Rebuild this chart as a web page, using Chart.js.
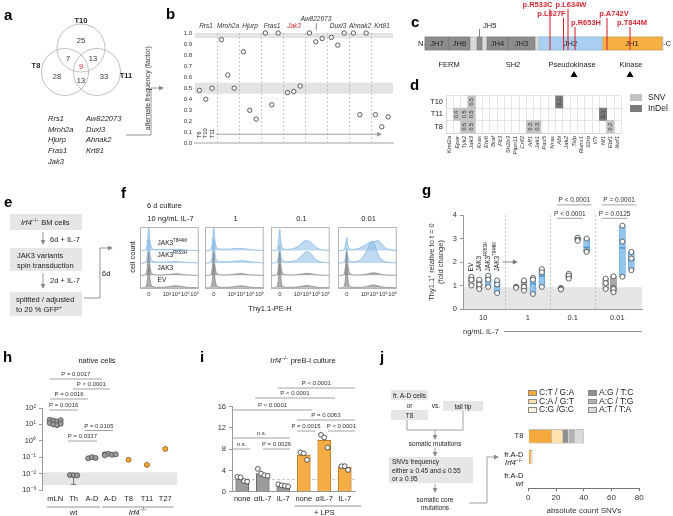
<!DOCTYPE html>
<html>
<head>
<meta charset="utf-8">
<title>Irf4 / JAK3 figure</title>
<script src="https://cdn.jsdelivr.net/npm/chart.js@4.4.1/dist/chart.umd.min.js"></script>
<style>
  html, body { margin: 0; padding: 0; background: #fff; }
  #fig { position: relative; width: 673px; height: 516px; overflow: hidden;
         font-family: "Liberation Sans", Arial, sans-serif; color: #222; }
  #art { position: absolute; left: 0; top: 0; will-change: transform; }
  .cv { position: absolute; }
  #legendD, #legendJ { position: absolute; left: 0; top: 0; width: 673px; height: 516px; will-change: transform; }
  .leg { position: absolute; white-space: nowrap; color: #222; }
  .leg span { display: inline-block; box-sizing: border-box; border: 0.6px solid #888; vertical-align: middle; margin-right: 2px; }
</style>
</head>
<body>
<div id="fig">
<svg id="art" width="673" height="516" font-family="Liberation Sans, Arial, sans-serif" fill="#222">
  <defs>
    <marker id="ah" viewBox="0 0 6 6" refX="5" refY="3" markerWidth="5" markerHeight="5" markerUnits="userSpaceOnUse" orient="auto">
      <path d="M0,0 L6,3 L0,6 z" fill="#888"/>
    </marker>
  </defs>
  <!-- panel letters -->
  <g font-weight="bold" font-size="15" fill="#000">
    <text x="4" y="20">a</text><text x="166" y="19">b</text><text x="411" y="27">c</text>
    <text x="410" y="90">d</text><text x="4" y="207">e</text><text x="121" y="198">f</text>
    <text x="422" y="195">g</text><text x="3" y="362">h</text><text x="200" y="362">i</text>
    <text x="380" y="362">j</text>
  </g>

  <!-- a: Venn -->
  <g fill="none" stroke="#b0b0b0" stroke-width="0.8">
    <circle cx="81" cy="48" r="24"/><circle cx="65" cy="72" r="23.5"/><circle cx="97" cy="72" r="23.5"/>
  </g>
  <g font-size="7.5" font-weight="bold" text-anchor="middle">
    <text x="81" y="23">T10</text><text x="36" y="68">T8</text><text x="126" y="78">T11</text>
  </g>
  <g font-size="7.5" text-anchor="middle" fill="#333">
    <text x="81" y="43">25</text><text x="68" y="61">7</text><text x="93" y="61">13</text>
    <text x="81" y="69" fill="#d42a35">9</text><text x="57" y="79">28</text><text x="81" y="83">13</text>
    <text x="104" y="79">33</text>
  </g>
  <g font-size="7.5" font-style="italic">
    <text x="48" y="121">Rrs1</text><text x="48" y="131.5">Mroh2a</text><text x="48" y="142">Hjurp</text>
    <text x="48" y="153">Fras1</text><text x="48" y="164">Jak3</text>
    <text x="86" y="121">Aw822073</text><text x="86" y="131.5">Duxl3</text><text x="86" y="142">Ahnak2</text>
    <text x="86" y="153">Krt81</text>
  </g>
  <polyline points="126,135 151,135 151,88 163,88" fill="none" stroke="#888" stroke-width="0.9" marker-end="url(#ah)"/>

  <!-- c: JAK3 protein -->
  <text x="418" y="46" font-size="7.5">N-</text>
  <text x="663" y="46" font-size="7.5">-C</text>
  <rect x="425" y="37" width="238" height="13" fill="#dadada" stroke="#aaa" stroke-width="0.5"/>
  <g fill="#8d8d8d" stroke="#6e6e6e" stroke-width="0.5">
    <rect x="425" y="37" width="24" height="13"/><rect x="449" y="37" width="21" height="13"/>
    <rect x="477" y="37" width="5" height="13"/><rect x="487" y="37" width="21" height="13"/>
    <rect x="508" y="37" width="27" height="13"/>
  </g>
  <rect x="539" y="37" width="63" height="13" fill="#a9d0f0" stroke="#84acd0" stroke-width="0.5"/>
  <rect x="603" y="37" width="59" height="13" fill="#f7b143" stroke="#d08f2c" stroke-width="0.5"/>
  <g font-size="7.5" text-anchor="middle" fill="#222">
    <text x="437" y="46">JH7</text><text x="459.5" y="46">JH6</text><text x="497.5" y="46">JH4</text>
    <text x="521.5" y="46">JH3</text><text x="570.5" y="46">JH2</text><text x="632" y="46">JH1</text>
    <text x="449" y="67">FERM</text><text x="513" y="67">SH2</text>
    <text x="572" y="67">Pseudokinase</text><text x="631" y="67">Kinase</text>
  </g>
  <text x="483" y="28" font-size="7.5">JH5</text>
  <line x1="479.5" y1="29" x2="479.5" y2="37" stroke="#666" stroke-width="0.8"/>
  <polygon points="570.5,77 577.5,77 574,71" fill="#000"/>
  <polygon points="626.5,77 633.5,77 630,71" fill="#000"/>
  <g stroke="#d42a35" stroke-width="1.1">
    <line x1="550" y1="9" x2="550" y2="50"/><line x1="563.5" y1="18" x2="563.5" y2="50"/>
    <line x1="568" y1="9" x2="568" y2="50"/><line x1="575" y1="27" x2="575" y2="50"/>
    <line x1="607" y1="18" x2="607" y2="50"/><line x1="630" y1="27" x2="630" y2="50"/>
  </g>
  <g font-size="7.5" font-weight="bold" fill="#d42a35" text-anchor="middle">
    <text x="537.5" y="7">p.R533C</text><text x="551.5" y="16">p.L627F</text>
    <text x="571" y="7">p.L634W</text><text x="586" y="25">p.R653H</text>
    <text x="614" y="16">p.A742V</text><text x="632" y="25">p.T844M</text>
  </g>

  <!-- e: workflow -->
  <g fill="#e6e6e6">
    <rect x="10" y="214" width="72" height="16"/><rect x="10" y="248" width="72" height="23"/>
    <rect x="10" y="292" width="72" height="24"/>
  </g>
  <g font-size="7.5">
    <text x="21" y="225"><tspan font-style="italic">Irf4</tspan><tspan font-size="5" dy="-3">−/−</tspan><tspan dy="3"> BM cells</tspan></text>
    <text x="50" y="242">6d + IL-7</text>
    <text x="17" y="258">JAK3 variants</text><text x="17" y="268">spin transduction</text>
    <text x="50" y="283">2d + IL-7</text>
    <text x="16" y="302">splitted / adjusted</text>
    <text x="16" y="312">to 20 % GFP<tspan font-size="5" dy="-3">+</tspan></text>
    <text x="102" y="276">6d</text>
  </g>
  <g stroke="#888" stroke-width="0.9" fill="none">
    <line x1="43" y1="232" x2="43" y2="244" marker-end="url(#ah)"/>
    <line x1="43" y1="273" x2="43" y2="288" marker-end="url(#ah)"/>
    <polyline points="84,298 100,298 100,248 112,248" marker-end="url(#ah)"/>
  </g>

  <!-- f: annotations around the histograms -->
  <text x="147" y="208" font-size="7.5">6 d culture</text>
  <text transform="translate(134.5,257) rotate(-90)" font-size="7.5" text-anchor="middle">cell count</text>
  <text x="270" y="311" font-size="7.5" text-anchor="middle">Thy1.1-PE-H</text>

  <!-- j: workflow -->
  <g fill="#e6e6e6">
    <rect x="391" y="390" width="37" height="10"/><rect x="391" y="410" width="37" height="10"/>
    <rect x="443" y="401" width="40" height="10"/><rect x="389" y="457" width="84" height="26"/>
  </g>
  <g font-size="6.5" text-anchor="middle">
    <text x="409.5" y="397.5">fr. A-D cells</text><text x="409.5" y="407.5">or</text>
    <text x="409.5" y="417.5">T8</text><text x="436" y="407.5">vs.</text>
    <text x="463" y="408.5">tail tip</text><text x="435" y="445.5">somatic mutations</text>
    <text x="435" y="501.5">somatic core</text><text x="435" y="510">mutations</text>
  </g>
  <g font-size="6.5">
    <text x="392" y="464">SNVs frequency</text>
    <text x="392" y="472.5">either ≥ 0.45 and ≤ 0.55</text>
    <text x="392" y="481">or ≥ 0.95</text>
  </g>
  <g stroke="#888" stroke-width="0.8" fill="none">
    <polyline points="407,420 407,430 463,430 463,411"/>
    <line x1="435" y1="430" x2="435" y2="439" marker-end="url(#ah)"/>
    <line x1="435" y1="448" x2="435" y2="456" marker-end="url(#ah)"/>
    <line x1="435" y1="484" x2="435" y2="492" marker-end="url(#ah)"/>
    <polyline points="469,503 487,503 487,457 498,457" marker-end="url(#ah)"/>
  </g>
</svg>

<div class="cv" style="left:140px;top:10px;width:258px;height:140px"><canvas id="chartB"></canvas></div>
<div class="cv" style="left:428px;top:88px;width:200px;height:86px"><canvas id="chartD"></canvas></div>
<div class="cv" style="left:140px;top:214px;width:61px;height:90px"><canvas id="chartF0"></canvas></div>
<div class="cv" style="left:205px;top:214px;width:61px;height:90px"><canvas id="chartF1"></canvas></div>
<div class="cv" style="left:271px;top:214px;width:61px;height:90px"><canvas id="chartF2"></canvas></div>
<div class="cv" style="left:338px;top:214px;width:61px;height:90px"><canvas id="chartF3"></canvas></div>
<div class="cv" style="left:425px;top:190px;width:225px;height:150px"><canvas id="chartG"></canvas></div>
<div class="cv" style="left:0px;top:352px;width:182px;height:164px"><canvas id="chartH"></canvas></div>
<div class="cv" style="left:198px;top:352px;width:170px;height:164px"><canvas id="chartI"></canvas></div>
<div class="cv" style="left:490px;top:420px;width:183px;height:96px"><canvas id="chartJ"></canvas></div>
<div id="legendD"></div>
<div id="legendJ"></div>
</div>

<script>
// ===== DATA =====
// b: alternate allele frequency of the 9 shared variants
const B_GENES  = ['Rrs1', 'Mroh2a', 'Hjurp', 'Fras1', 'Jak3', 'Aw822073', 'Duxl3', 'Ahnak2', 'Krt81'];
const B_TUMORS = ['T8', 'T10', 'T11'];
const B_T8  = [0.48, 0.94, 0.83, 1.00, 0.46, 1.00, 0.96, 1.00, 0.26];
const B_T10 = [0.40, 0.62, 0.30, 0.35, 0.47, 0.92, 0.89, 0.26, 0.15];
const B_T11 = [0.50, 0.50, 0.22, 1.00, 0.52, 0.95, 1.00, 1.00, 0.24];
const B_BANDS = [[0.955, 1.0], [0.45, 0.55]];

// d: leukemia driver genes
const D_GENES = ['Kmt2a', 'Epor', 'Tyk2', 'Jak3', 'Kras', 'Etv6', 'Braf', 'Flt3', 'Sh2b3', 'Ptpn11', 'Crlf2', 'Aff1',
                 'Jak1', 'Pax5', 'Nras', 'Abl', 'Jak2', 'Tslp', 'Runx1', 'Il2rb', 'Il7r', 'Nf1', 'Ebf1', 'Ikzf1'];
const D_TUMORS = ['T10', 'T11', 'T8'];
const D_KINDS  = ['SNV', 'InDel'];
const D_SNV = [['T10', 'Jak3', '0.5'], ['T11', 'Epor', '0.4'], ['T11', 'Tyk2', '0.5'], ['T11', 'Jak3', '0.5'],
               ['T8', 'Tyk2', '0.5'], ['T8', 'Jak3', '0.5'], ['T8', 'Aff1', '0.3'], ['T8', 'Jak1', '0.3'],
               ['T8', 'Ebf1', '0.2']];
const D_INDEL = [['T10', 'Abl', '0.1'], ['T11', 'Nf1', '0.1']];

// f: Thy1.1 histograms (x in decades, heights normalised to the peak)
const F_CONC = ['10 ng/mL IL-7', '1', '0.1', '0.01'];
const F_VARIANTS = ['EV', 'JAK3', 'JAK3 R653H', 'JAK3 T844M'];
const F_X = [0.1, 0.55, 0.8, 0.95, 1.05, 1.15, 1.3, 1.5, 1.9, 2.4, 2.9, 3.3, 3.6, 3.9, 4.2, 4.5, 4.8, 5.2, 5.7, 6.45];
const F_TICKS = [1.05, 3, 4, 5, 6];
const F_TICK_LABELS = ['0', '10³', '10⁴', '10⁵', '10⁶'];
const F_EV = [
  [0, 0, 0.08, 0.55, 1.0, 0.5, 0.12, 0.04, 0.02, 0.02, 0.03, 0.05, 0.07, 0.09, 0.08, 0.06, 0.04, 0.02, 0.01, 0],
  [0, 0, 0.08, 0.6, 1.0, 0.5, 0.12, 0.04, 0.02, 0.02, 0.03, 0.05, 0.07, 0.08, 0.08, 0.06, 0.04, 0.02, 0.01, 0],
  [0, 0, 0.1, 0.6, 1.0, 0.5, 0.1, 0.03, 0.02, 0.02, 0.03, 0.05, 0.08, 0.1, 0.09, 0.06, 0.04, 0.02, 0.01, 0],
  [0, 0, 0.1, 0.6, 1.0, 0.45, 0.1, 0.03, 0.02, 0.02, 0.03, 0.06, 0.1, 0.12, 0.1, 0.07, 0.04, 0.02, 0.01, 0]
];
const F_JAK3 = [
  [0, 0, 0.1, 0.6, 1.0, 0.5, 0.12, 0.04, 0.02, 0.02, 0.03, 0.04, 0.06, 0.07, 0.07, 0.05, 0.03, 0.02, 0.01, 0],
  [0, 0, 0.1, 0.6, 1.0, 0.5, 0.12, 0.04, 0.02, 0.02, 0.03, 0.05, 0.06, 0.08, 0.07, 0.05, 0.03, 0.02, 0.01, 0],
  [0, 0, 0.1, 0.65, 1.0, 0.5, 0.12, 0.04, 0.02, 0.02, 0.03, 0.05, 0.07, 0.08, 0.08, 0.06, 0.04, 0.02, 0.01, 0],
  [0, 0, 0.1, 0.6, 1.0, 0.5, 0.12, 0.04, 0.02, 0.02, 0.03, 0.06, 0.09, 0.11, 0.1, 0.07, 0.04, 0.02, 0.01, 0]
];
const F_R653H = [
  [0, 0, 0.1, 0.6, 1.0, 0.5, 0.15, 0.06, 0.04, 0.04, 0.04, 0.05, 0.05, 0.06, 0.05, 0.04, 0.03, 0.02, 0.01, 0],
  [0, 0, 0.1, 0.6, 1.0, 0.5, 0.15, 0.07, 0.05, 0.05, 0.06, 0.07, 0.08, 0.09, 0.09, 0.08, 0.06, 0.04, 0.02, 0],
  [0, 0, 0.08, 0.45, 0.75, 0.35, 0.12, 0.06, 0.05, 0.06, 0.12, 0.25, 0.38, 0.47, 0.45, 0.35, 0.2, 0.08, 0.03, 0],
  [0, 0, 0.06, 0.35, 0.6, 0.3, 0.1, 0.05, 0.05, 0.1, 0.3, 0.6, 0.85, 0.9, 0.6, 0.3, 0.15, 0.06, 0.02, 0]
];
const F_T844M = [
  [0, 0, 0.1, 0.6, 1.0, 0.5, 0.15, 0.06, 0.04, 0.04, 0.04, 0.05, 0.05, 0.05, 0.05, 0.04, 0.03, 0.02, 0.01, 0],
  [0, 0, 0.1, 0.6, 1.0, 0.5, 0.15, 0.07, 0.06, 0.06, 0.07, 0.08, 0.09, 0.09, 0.08, 0.07, 0.05, 0.03, 0.02, 0],
  [0, 0, 0.08, 0.55, 0.9, 0.4, 0.12, 0.06, 0.05, 0.07, 0.15, 0.28, 0.38, 0.42, 0.4, 0.32, 0.2, 0.08, 0.03, 0],
  [0, 0, 0.06, 0.35, 0.55, 0.25, 0.08, 0.05, 0.05, 0.1, 0.2, 0.3, 0.36, 0.38, 0.4, 0.42, 0.3, 0.12, 0.04, 0]
];

// g: Thy1.1+ fold change, per IL-7 concentration (3 replicates)
const G_CONC = ['10', '1', '0.1', '0.01'];
const G_EV    = [[1.37, 1.25, 1.00], [0.95, 0.93, 0.90], [0.90, 0.86, 0.83], [1.29, 1.10, 0.85]];
const G_JAK3  = [[1.25, 1.04, 0.85], [1.22, 0.94, 0.78], [1.50, 1.42, 1.29], [1.39, 0.85, 0.71]];
const G_R653H = [[1.42, 1.25, 0.94], [1.32, 1.25, 0.64], [3.04, 2.95, 2.90], [3.55, 2.87, 1.37]];
const G_T844M = [[1.22, 1.04, 0.68], [1.70, 1.56, 0.94], [3.00, 2.45, 2.43], [2.43, 2.15, 1.65]];
const G_BAND_TOP = 0.93;
const G_PVALS = [['P < 0.0001', 2, 3, 4.43], ['P < 0.0001', 2, 2, 3.86],
                 ['P = 0.0001', 3, 3, 4.43], ['P = 0.0125', 3, 2, 3.86]];

// h: Aicda expression in native cells
const H_GROUPS = ['mLN', 'Th', 'A-D', 'A-D', 'T8', 'T11', 'T27'];
const H_VALUES = [
  [19, 17, 15, 18, 12, 10, 9, 11],
  [0.0082, 0.008, 0.0078],
  [0.085, 0.1, 0.09],
  [0.15, 0.16, 0.14, 0.15, 0.13],
  [0.07],
  [0.034],
  [0.32]
];
const H_ERR_LOW = [null, 0.0022, null, null, null, null, null];
const H_BAND = [0.002, 0.012];
const H_PVALS = [['P = 0.0017', -0.3, 2.55, -29], ['P < 0.0001', 0.97, 2.97, -19],
                 ['P = 0.0016', -0.27, 1.78, -9], ['P = 0.0016', -0.32, 1.24, 2],
                 ['P = 0.0105', 1.62, 3.14, 22.5], ['P = 0.0337', 0.7, 2.27, 33]];

// i: Aicda in Irf4-/- preB-I culture
const I_LABELS = ['none', 'αIL-7', 'IL-7', 'none', 'αIL-7', 'IL-7'];
const I_BARS = [2.3, 3.4, 1.2, 6.9, 9.7, 4.6];
const I_POINTS = [[2.8, 2.7, 2.0, 1.9], [4.3, 3.4, 3.1, 3.0], [1.4, 1.2, 1.1, 1.0],
                  [7.4, 7.2, 6.0], [10.7, 10.2, 8.3], [4.8, 4.8, 4.1]];
const I_BASELINE = 2.3;
const I_PVALS = [['P < 0.0001', 1.74, 5.49, -18.7], ['P < 0.0001', 0.62, 4.52, -8.7],
                 ['P < 0.0001', -0.45, 3.4, 3.3], ['P = 0.0063', 2.67, 5.49, 13.3],
                 ['P = 0.0015', 2.67, 3.55, 24.3], ['P < 0.0001', 4.18, 5.49, 24.3],
                 ['n.s.', -0.45, 2.33, 31.3], ['n.s.', -0.45, 0.38, 42.3], ['P = 0.0026', 1.01, 2.33, 42.3]];

// j: somatic SNV spectrum
const J_CATS = ['T8', 'fr.A-D Irf4-/-', 'fr.A-D wt'];
const J_TYPES = ['C:T / G:A', 'C:A / G:T', 'C:G /G:C', 'A:G / T:C', 'A:C / T:G', 'A:T / T:A'];
const J_COUNTS = [[17, 2, 0], [8, 1, 0], [0, 0, 0], [4, 0, 0], [5, 0, 0], [6, 0, 0]];

// ===== STYLE / HELPERS =====
const FONT = '"Liberation Sans", Arial, sans-serif';
Chart.defaults.font.family = FONT;
Chart.defaults.font.size = 8;
Chart.defaults.color = '#222';
Chart.defaults.animation = false;
Chart.defaults.responsive = true;
Chart.defaults.maintainAspectRatio = false;
Chart.defaults.plugins.legend.display = false;
Chart.defaults.plugins.tooltip.enabled = false;

const J_COLORS = ['#f5a83c', '#fde2ae', '#fff3e0', '#8e8e8e', '#b3b3b3', '#d9d9d9'];
const D_COLORS = ['#c2c2c2', '#7b7b7b'];
const NO_GRID = { display: false, drawTicks: false };

function fontStr(style, size) {
    const sup = style.includes('^');
    return (style.includes('i') ? 'italic ' : '') + (style.includes('b') ? 'bold ' : '') +
           (sup ? size * 0.68 : size) + 'px ' + FONT;
}

// parts: [[text, style]] ; style: 'i' italic, '^' superscript
function richText(ctx, parts, x, y, size, align) {
    let w = 0;
    parts.forEach(([t, s = '']) => { ctx.font = fontStr(s, size); w += ctx.measureText(t).width; });
    let cx = align === 'center' ? x - w / 2 : align === 'right' ? x - w : x;
    ctx.textAlign = 'left';
    ctx.textBaseline = 'middle';
    parts.forEach(([t, s = '']) => {
        ctx.font = fontStr(s, size);
        ctx.fillText(t, cx, s.includes('^') ? y - size * 0.35 : y);
        cx += ctx.measureText(t).width;
    });
}

function arrowH(ctx, x1, x2, y, color) {
    ctx.strokeStyle = color; ctx.fillStyle = color; ctx.lineWidth = 0.9;
    ctx.beginPath(); ctx.moveTo(x1, y); ctx.lineTo(x2 - 4, y); ctx.stroke();
    ctx.beginPath(); ctx.moveTo(x2, y); ctx.lineTo(x2 - 5, y - 2.5); ctx.lineTo(x2 - 5, y + 2.5); ctx.closePath(); ctx.fill();
}

function bracket(ctx, x1, x2, y, text, size) {
    ctx.strokeStyle = '#8a8a8a'; ctx.lineWidth = 0.8;
    ctx.beginPath(); ctx.moveTo(x1, y); ctx.lineTo(x2, y); ctx.stroke();
    ctx.fillStyle = '#333'; ctx.font = size + 'px ' + FONT;
    ctx.textAlign = 'center'; ctx.textBaseline = 'bottom';
    ctx.fillText(text, (x1 + x2) / 2, y - 1.2);
}

const SUP = { '-': '⁻', '0': '⁰', '1': '¹', '2': '²', '3': '³' };
const pow10 = (e) => '10' + String(e).split('').map(c => SUP[c]).join('');
const jitter = (k, n, step) => { const cols = Math.min(n, 4); return ((k % cols) - (cols - 1) / 2) * step; };
const mean = (a) => a.reduce((s, v) => s + v, 0) / a.length;

// ===== b =====
const B_OFFSETS = [0.2, 0.49, 0.78];
const bDecor = {
    id: 'bDecor',
    beforeDraw(chart) {
        const { ctx, chartArea: a, scales: { y } } = chart;
        ctx.save();
        ctx.fillStyle = '#e3e3e3';
        B_BANDS.forEach(([lo, hi]) => {
            const t = y.getPixelForValue(hi), b = y.getPixelForValue(lo);
            ctx.fillRect(a.left, t, a.right - a.left, b - t);
        });
        ctx.restore();
    },
    afterDatasetsDraw(chart) {
        const { ctx, scales: { x, y } } = chart;
        ctx.save();
        arrowH(ctx, x.getPixelForValue(0.95), x.getPixelForValue(8.5), y.getPixelForValue(0.083), '#999');
        ctx.fillStyle = '#222';
        B_TUMORS.forEach((t, k) => {
            ctx.save();
            ctx.translate(x.getPixelForValue(B_OFFSETS[k]), y.getPixelForValue(0.045));
            ctx.rotate(-Math.PI / 2);
            ctx.font = '6px ' + FONT; ctx.textAlign = 'left'; ctx.textBaseline = 'middle';
            ctx.fillText(t, 0, 0);
            ctx.restore();
        });
        ctx.restore();
    }
};

new Chart(document.getElementById('chartB'), {
    type: 'scatter',
    data: {
        datasets: [B_T8, B_T10, B_T11].map((vals, k) => ({
            label: B_TUMORS[k],
            data: vals.map((v, i) => ({ x: i + B_OFFSETS[k], y: v })),
            pointRadius: 2.2,
            pointBackgroundColor: '#fff',
            pointBorderColor: '#333',
            pointBorderWidth: 0.8,
            clip: false
        }))
    },
    options: {
        layout: { padding: { right: 5 } },
        scales: {
            x: {
                type: 'linear', min: 0, max: B_GENES.length,
                afterBuildTicks: (s) => { s.ticks = B_GENES.slice(1).map((g, i) => ({ value: i + 1 })); },
                ticks: { display: false },
                grid: { color: '#b0b0b0', lineWidth: 0.7, drawTicks: false },
                border: { color: '#d0d0d0', width: 2, dash: [2, 2] },
                afterFit: (s) => { s.height = 5; }
            },
            xTop: {
                type: 'linear', position: 'top', min: 0, max: B_GENES.length,
                afterBuildTicks: (s) => { s.ticks = B_GENES.map((g, i) => ({ value: i + 0.5 })); },
                ticks: {
                    autoSkip: false, maxRotation: 0, padding: 3,
                    font: { size: 6.5, style: 'italic', lineHeight: 1.1 },
                    color: (c) => B_GENES[c.index] === 'Jak3' ? '#d42a35' : '#333',
                    callback: (v, i) => B_GENES[i] === 'Aw822073' ? [B_GENES[i], '|'] : B_GENES[i]
                },
                grid: NO_GRID,
                border: { display: false },
                afterFit: (s) => { s.height = 23; }
            },
            y: {
                min: 0, max: 1,
                ticks: { stepSize: 0.1, font: { size: 6 }, padding: 3, color: '#333', callback: (v) => v.toFixed(1) },
                grid: NO_GRID,
                border: { display: false },
                title: { display: true, text: 'alternate frequency (factor)', font: { size: 7 }, color: '#333', padding: { top: 4, bottom: 0 } },
                afterFit: (s) => { s.width = 55; }
            }
        }
    },
    plugins: [bDecor]
});

// ===== d =====
const dCell = ([t, g, v]) => ({ y: t, x: [D_GENES.indexOf(g), D_GENES.indexOf(g) + 1], v });
const dCellText = {
    id: 'dCellText',
    afterDatasetsDraw(chart) {
        const { ctx } = chart;
        chart.data.datasets.forEach((ds, di) => {
            chart.getDatasetMeta(di).data.forEach((el, i) => {
                ctx.save();
                ctx.translate((el.x + el.base) / 2, el.y);
                ctx.rotate(-Math.PI / 2);
                ctx.font = '5.5px ' + FONT; ctx.fillStyle = '#333';
                ctx.textAlign = 'center'; ctx.textBaseline = 'middle';
                ctx.fillText(ds.data[i].v, 0, 0);
                ctx.restore();
            });
        });
    }
};

new Chart(document.getElementById('chartD'), {
    type: 'bar',
    data: {
        labels: D_TUMORS,
        datasets: [D_SNV, D_INDEL].map((cells, k) => ({
            label: D_KINDS[k],
            data: cells.map(dCell),
            backgroundColor: D_COLORS[k],
            borderWidth: 0,
            barPercentage: 1, categoryPercentage: 1, grouped: false
        }))
    },
    options: {
        indexAxis: 'y',
        layout: { padding: { top: 5, right: 2 } },
        scales: {
            x: {
                type: 'linear', min: 0, max: D_GENES.length, offset: false,
                afterBuildTicks: (s) => { s.ticks = D_GENES.concat(['']).map((g, i) => ({ value: i })); },
                ticks: { display: false },
                grid: { color: '#d4d4d4', lineWidth: 0.6, drawTicks: false },
                border: { color: '#d4d4d4' },
                afterFit: (s) => { s.height = 0; }
            },
            xg: {
                type: 'category', labels: D_GENES, position: 'bottom', offset: true,
                ticks: { autoSkip: false, minRotation: 90, maxRotation: 90, padding: 3, font: { size: 6, style: 'italic' }, color: '#333' },
                grid: NO_GRID,
                border: { display: false },
                afterFit: (s) => { s.height = 41; }
            },
            y: {
                type: 'category', offset: true,
                grid: { offset: true, color: '#d4d4d4', lineWidth: 0.6, drawTicks: false },
                border: { color: '#d4d4d4' },
                ticks: { padding: 3, font: { size: 7.5 }, color: '#222' },
                afterFit: (s) => { s.width = 18; }
            }
        }
    },
    plugins: [dCellText]
});

// legend d
(function () {
    const host = document.getElementById('legendD');
    D_KINDS.forEach((k, i) => {
        const el = document.createElement('div');
        el.className = 'leg';
        el.style.cssText = `left:630px;top:${93 + i * 11}px;font-size:8.5px;line-height:9px;`;
        el.innerHTML = `<span style="width:12px;height:7px;background:${D_COLORS[i]};border-color:${D_COLORS[i]};margin-right:6px"></span>${k}`;
        host.appendChild(el);
    });
})();

// ===== f =====
const F_OFFSETS = [0.1, 1.1, 2.1, 3.1];
const F_HEIGHT = 1.9;
const F_NAMES = [[['EV']], [['JAK3']], [['JAK3'], ['R653H', '^']], [['JAK3'], ['T844M', '^']]];
const fFrame = {
    id: 'fFrame',
    afterDraw(chart) {
        const { ctx, chartArea: a } = chart;
        ctx.save(); ctx.strokeStyle = '#b5b5b5'; ctx.lineWidth = 1;
        ctx.strokeRect(a.left + 0.5, a.top + 0.5, a.right - a.left - 1, a.bottom - a.top - 1);
        ctx.restore();
    }
};
const fNames = {
    id: 'fNames',
    afterDatasetsDraw(chart) {
        const { ctx, scales: { x, y } } = chart;
        ctx.save(); ctx.fillStyle = '#222';
        F_NAMES.forEach((parts, k) => richText(ctx, parts, x.getPixelForValue(2.0), y.getPixelForValue(F_OFFSETS[k] + 0.6), 6.5, 'left'));
        ctx.restore();
    }
};

F_CONC.forEach((conc, c) => {
    const traces = [F_EV[c], F_JAK3[c], F_R653H[c], F_T844M[c]];
    new Chart(document.getElementById('chartF' + c), {
        type: 'line',
        data: {
            datasets: traces.map((vals, k) => ({
                label: F_VARIANTS[k],
                data: vals.map((v, j) => ({ x: F_X[j], y: F_OFFSETS[k] + F_HEIGHT * v })),
                fill: { value: F_OFFSETS[k] },
                borderColor: k < 2 ? '#8a8a8a' : '#80b6e3',
                backgroundColor: k < 2 ? 'rgba(110,110,110,0.55)' : 'rgba(140,188,230,0.55)',
                borderWidth: 0.8,
                pointRadius: 0,
                tension: 0.3
            }))
        },
        options: {
            plugins: {
                title: { display: true, text: conc, font: { size: 7.5, weight: 'normal' }, color: '#222', padding: { top: 0, bottom: 4 } }
            },
            scales: {
                x: {
                    type: 'linear', min: 0.1, max: 6.45,
                    afterBuildTicks: (s) => { s.ticks = F_TICKS.map(v => ({ value: v })); },
                    ticks: { autoSkip: false, maxRotation: 0, padding: 2, font: { size: 5.8 }, color: '#333',
                             callback: (v, i) => F_TICK_LABELS[i] },
                    grid: NO_GRID,
                    border: { display: false },
                    afterFit: (s) => { s.height = 15; }
                },
                y: { display: false, min: 0, max: 5 }
            }
        },
        plugins: c === 0 ? [fFrame, fNames] : [fFrame]
    });
});

// ===== g =====
const G_OFFSETS = [0.95, 1.65, 2.45, 3.25];
const G_SERIES = [G_EV, G_JAK3, G_R653H, G_T844M];
const G_FILL = ['#d3d3d3', '#a9a9a9', '#93c6ee', '#93c6ee'];
const G_EDGE = ['#a0a0a0', '#7c7c7c', '#5d9fd6', '#5d9fd6'];
const G_NAMES = [[['EV']], [['JAK3']], [['JAK3'], ['R653H', '^']], [['JAK3'], ['T844M', '^']]];
const gPos = (g, k) => g * 4 + G_OFFSETS[k];

const gDecor = {
    id: 'gDecor',
    beforeDraw(chart) {
        const { ctx, chartArea: a, scales: { y } } = chart;
        ctx.save(); ctx.fillStyle = '#e6e6e6';
        const t = y.getPixelForValue(G_BAND_TOP);
        ctx.fillRect(a.left, t, a.right - a.left, a.bottom - t);
        ctx.restore();
    },
    afterDraw(chart) {
        const { ctx, chartArea: a, scales: { x, y } } = chart;
        ctx.save();
        ctx.fillStyle = '#222';
        G_NAMES.forEach((parts, k) => {
            ctx.save();
            ctx.translate(x.getPixelForValue(gPos(0, k)), y.getPixelForValue(1.6));
            ctx.rotate(-Math.PI / 2);
            richText(ctx, parts, 0, 0, 6.5, 'left');
            ctx.restore();
        });
        arrowH(ctx, x.getPixelForValue(3.75), x.getPixelForValue(5.1), y.getPixelForValue(2.0), '#777');
        G_PVALS.forEach(([text, g, k, level]) => {
            bracket(ctx, x.getPixelForValue(gPos(g, 0) - 0.35), x.getPixelForValue(gPos(g, k) + 0.45),
                    y.getPixelForValue(level), text, 6.5);
        });
        // line after the axis title
        ctx.font = '7.5px ' + FONT;
        const tw = ctx.measureText('ng/mL IL-7').width;
        const ly = x.bottom - 8.5;
        ctx.strokeStyle = '#777'; ctx.lineWidth = 0.8;
        ctx.beginPath(); ctx.moveTo(a.left + tw + 5, ly); ctx.lineTo(a.right, ly); ctx.stroke();
        ctx.restore();
    }
};

new Chart(document.getElementById('chartG'), {
    type: 'bar',
    data: {
        datasets: [
            ...G_SERIES.map((s, k) => ({
                type: 'bar', label: 'range',
                data: s.map((pts, g) => ({ x: gPos(g, k), y: [Math.min(...pts), Math.max(...pts)] })),
                backgroundColor: G_FILL[k], borderColor: G_EDGE[k], borderWidth: 0.8,
                barThickness: 6, grouped: false, order: 3
            })),
            ...G_SERIES.map((s, k) => ({
                type: 'scatter', label: 'mean',
                data: s.map((pts, g) => ({ x: gPos(g, k), y: mean(pts) })),
                pointStyle: 'line', pointRadius: 3, pointBorderColor: k < 2 ? '#6a6a6a' : '#3f86c4',
                pointBorderWidth: 1.1, order: 2
            })),
            ...G_SERIES.map((s, k) => ({
                type: 'scatter', label: 'replicates',
                data: s.flatMap((pts, g) => pts.map(v => ({ x: gPos(g, k), y: v }))),
                pointRadius: 2.5, pointBackgroundColor: '#fff', pointBorderColor: '#444',
                pointBorderWidth: 0.8, order: 1, clip: false
            }))
        ]
    },
    options: {
        layout: { padding: { top: 25, right: 8 } },
        scales: {
            x: {
                type: 'linear', min: 0.2, max: 16.2, offset: false,
                afterBuildTicks: (s) => { s.ticks = G_CONC.map((c, g) => ({ value: g * 4 + 2 })); },
                ticks: { autoSkip: false, maxRotation: 0, padding: 4, font: { size: 7.5 }, color: '#333',
                         callback: (v, i) => G_CONC[i] },
                grid: { display: false, drawTicks: false, offset: false },
                border: { color: '#999' },
                title: { display: true, text: 'ng/mL IL-7', align: 'start', font: { size: 7.5 }, color: '#333', padding: { top: 2, bottom: 4 } },
                afterFit: (s) => { s.height = 31; }
            },
            xs: {
                type: 'linear', min: 0.2, max: 16.2, offset: false,
                afterBuildTicks: (s) => { s.ticks = [1, 2, 3].map(g => ({ value: g * 4 })); },
                ticks: { display: false },
                grid: { color: '#b0b0b0', lineWidth: 0.7, drawTicks: false, offset: false },
                border: { display: false, dash: [2, 2] },
                afterFit: (s) => { s.height = 0; }
            },
            y: {
                min: 0, max: 4,
                ticks: { stepSize: 1, font: { size: 7.5 }, padding: 3, color: '#333' },
                grid: { drawOnChartArea: false, tickLength: 3, color: '#999' },
                border: { color: '#999' },
                title: { display: true, text: ['Thy1.1⁺ relative to t = 0', '(fold change)'], font: { size: 7.5 }, color: '#333', padding: { top: 2, bottom: 0 } },
                afterFit: (s) => { s.width = 38; }
            }
        }
    },
    plugins: [gDecor]
});

// ===== h =====
const hDecor = {
    id: 'hDecor',
    beforeDraw(chart) {
        const { ctx, chartArea: a, scales: { y } } = chart;
        ctx.save(); ctx.fillStyle = '#e6e6e6';
        const t = y.getPixelForValue(H_BAND[1]), b = y.getPixelForValue(H_BAND[0]);
        ctx.fillRect(a.left, t, a.right - a.left, b - t);
        ctx.restore();
    },
    beforeDatasetsDraw(chart) {
        const { ctx, scales: { x, y } } = chart;
        ctx.save(); ctx.strokeStyle = '#666'; ctx.lineWidth = 0.9;
        H_ERR_LOW.forEach((lo, g) => {
            if (lo === null) return;
            const px = x.getPixelForValue(g);
            const y1 = y.getPixelForValue(mean(H_VALUES[g])), y2 = y.getPixelForValue(lo);
            ctx.beginPath(); ctx.moveTo(px, y1); ctx.lineTo(px, y2);
            ctx.moveTo(px - 2.5, y2); ctx.lineTo(px + 2.5, y2); ctx.stroke();
        });
        ctx.restore();
    },
    afterDraw(chart) {
        const { ctx, chartArea: a, scales: { x } } = chart;
        ctx.save();
        ctx.fillStyle = '#222';
        richText(ctx, [['native cells']], 97, 9, 7.5, 'center');
        ctx.save();
        ctx.translate(13, 447); ctx.rotate(-Math.PI / 2);
        richText(ctx, [['Aicda', 'i'], [' (% of '], ['Hprt', 'i'], [')']], 0, 0, 7.5, 'center');
        ctx.restore();
        H_PVALS.forEach(([text, x1, x2, dy]) => bracket(ctx, x.getPixelForValue(x1), x.getPixelForValue(x2), a.top + dy, text, 6));
        const groups = [[[['wt']], 0, 2], [[['Irf4', 'i'], ['−/−', '^']], 3, 6]];
        groups.forEach(([parts, g1, g2]) => {
            const x1 = x.getPixelForValue(g1 - 0.45), x2 = x.getPixelForValue(g2 + 0.45);
            ctx.strokeStyle = '#777'; ctx.lineWidth = 0.8;
            ctx.beginPath(); ctx.moveTo(x1, a.bottom + 17); ctx.lineTo(x2, a.bottom + 17); ctx.stroke();
            ctx.fillStyle = '#222';
            richText(ctx, parts, (x1 + x2) / 2, a.bottom + 22.5, 7.5, 'center');
        });
        ctx.restore();
    }
};

new Chart(document.getElementById('chartH'), {
    type: 'scatter',
    data: {
        datasets: H_VALUES.map((vals, g) => ({
            label: H_GROUPS[g],
            data: vals.map((v, k) => ({ x: g + jitter(k, vals.length, 0.2), y: v })),
            pointRadius: 2.5,
            pointBackgroundColor: g < 4 ? '#9d9d9d' : '#f4a73e',
            pointBorderColor: g < 4 ? '#4a4a4a' : '#8c5a12',
            pointBorderWidth: 0.8,
            clip: false
        }))
    },
    options: {
        layout: { padding: { top: 56, right: 4 } },
        scales: {
            x: {
                type: 'linear', min: -0.72, max: 6.65,
                afterBuildTicks: (s) => { s.ticks = H_GROUPS.map((g, i) => ({ value: i })); },
                ticks: { autoSkip: false, maxRotation: 0, padding: 4, font: { size: 7.5 }, color: '#222',
                         callback: (v, i) => H_GROUPS[i] },
                grid: NO_GRID,
                border: { display: false },
                afterFit: (s) => { s.height = 26; }
            },
            y: {
                type: 'logarithmic', min: 0.001, max: 100,
                afterBuildTicks: (s) => { s.ticks = [-3, -2, -1, 0, 1, 2].map(e => ({ value: Math.pow(10, e) })); },
                ticks: { font: { size: 7.5 }, padding: 3, color: '#333',
                         callback: (v) => pow10(Math.round(Math.log10(v))) },
                grid: { drawOnChartArea: false, tickLength: 3, color: '#999' },
                border: { color: '#999' },
                afterFit: (s) => { s.width = 42; }
            }
        }
    },
    plugins: [hDecor]
});

// ===== i =====
const iDecor = {
    id: 'iDecor',
    beforeDatasetsDraw(chart) {
        const { ctx, chartArea: a, scales: { y } } = chart;
        const py = y.getPixelForValue(I_BASELINE);
        ctx.save(); ctx.strokeStyle = '#bbb'; ctx.lineWidth = 0.8; ctx.setLineDash([3, 2]);
        ctx.beginPath(); ctx.moveTo(a.left, py); ctx.lineTo(a.right, py); ctx.stroke();
        ctx.restore();
    },
    afterDraw(chart) {
        const { ctx, chartArea: a, scales: { x } } = chart;
        ctx.save();
        ctx.fillStyle = '#222';
        richText(ctx, [['Irf4', 'i'], ['−/−', '^'], [' preB-I culture']], 105, 9, 7.5, 'center');
        ctx.save();
        ctx.translate(6, 447); ctx.rotate(-Math.PI / 2);
        richText(ctx, [['Aicda', 'i'], [' (% of '], ['Hprt', 'i'], [')']], 0, 0, 7.5, 'center');
        ctx.restore();
        I_PVALS.forEach(([text, x1, x2, dy]) => bracket(ctx, x.getPixelForValue(x1), x.getPixelForValue(x2), a.top + dy, text, 6));
        const x1 = x.getPixelForValue(2.55), x2 = x.getPixelForValue(5.8);
        ctx.strokeStyle = '#777'; ctx.lineWidth = 0.8;
        ctx.beginPath(); ctx.moveTo(x1, a.bottom + 14.3); ctx.lineTo(x2, a.bottom + 14.3); ctx.stroke();
        ctx.fillStyle = '#222';
        richText(ctx, [['+ LPS']], x.getPixelForValue(4), a.bottom + 21.3, 7.5, 'center');
        ctx.restore();
    }
};

new Chart(document.getElementById('chartI'), {
    type: 'bar',
    data: {
        datasets: [
            {
                type: 'bar', label: 'Aicda',
                data: I_BARS.map((v, i) => ({ x: i, y: v })),
                backgroundColor: I_BARS.map((v, i) => i < 3 ? '#9b9b9b' : '#f6ad45'),
                borderColor: I_BARS.map((v, i) => i < 3 ? '#555' : '#a8701e'),
                borderWidth: 0.8, barThickness: 13, order: 2
            },
            {
                type: 'scatter', label: 'replicates',
                data: I_POINTS.flatMap((pts, i) => pts.map((v, k) => ({ x: i + jitter(k, pts.length, 0.16), y: v }))),
                pointRadius: 2.4, pointBackgroundColor: '#fff', pointBorderColor: '#333',
                pointBorderWidth: 0.8, order: 1, clip: false
            }
        ]
    },
    options: {
        layout: { padding: { top: 54.7, right: 13 } },
        scales: {
            x: {
                type: 'linear', min: -0.5, max: 5.5, offset: false,
                afterBuildTicks: (s) => { s.ticks = I_LABELS.map((l, i) => ({ value: i })); },
                ticks: { autoSkip: false, maxRotation: 0, padding: 3, font: { size: 7.5 }, color: '#222',
                         callback: (v, i) => I_LABELS[i] },
                grid: { display: false, drawTicks: false, offset: false },
                border: { color: '#999' },
                afterFit: (s) => { s.height = 24.3; }
            },
            y: {
                min: 0, max: 16,
                ticks: { stepSize: 4, font: { size: 7.5 }, padding: 3, color: '#333' },
                grid: { drawOnChartArea: false, tickLength: 3, color: '#999' },
                border: { color: '#999' },
                afterFit: (s) => { s.width = 34; }
            }
        }
    },
    plugins: [iDecor]
});

// ===== j =====
const J_TICK_TEXT = [
    [[['T8']]],
    [[['fr.A-D']], [['Irf4', 'i'], ['−/−', '^']]],
    [[['fr.A-D']], [['wt', 'i']]]
];
const jLabels = {
    id: 'jLabels',
    afterDraw(chart) {
        const { ctx, chartArea: a, scales: { y } } = chart;
        ctx.save(); ctx.fillStyle = '#222';
        J_TICK_TEXT.forEach((lines, i) => {
            const py = y.getPixelForValue(i);
            if (lines.length === 1) richText(ctx, lines[0], a.left - 5, py, 7.5, 'right');
            else lines.forEach((parts, l) => richText(ctx, parts, a.left - 5, py - 2 + l * 8, 7.5, 'right'));
        });
        ctx.restore();
    }
};

new Chart(document.getElementById('chartJ'), {
    type: 'bar',
    data: {
        labels: J_CATS,
        datasets: J_TYPES.map((t, k) => ({
            label: t,
            data: J_COUNTS[k].map(v => v || null),
            backgroundColor: J_COLORS[k],
            borderColor: '#8a8a8a',
            borderWidth: 0.6,
            barPercentage: 0.68,
            categoryPercentage: 1
        }))
    },
    options: {
        indexAxis: 'y',
        layout: { padding: { top: 6, right: 33.7 } },
        scales: {
            x: {
                stacked: true, min: 0, max: 80,
                ticks: { stepSize: 20, font: { size: 8 }, padding: 2, color: '#333' },
                grid: { drawOnChartArea: false, tickLength: 3, color: '#777' },
                border: { color: '#777' },
                title: { display: true, text: 'absolute count SNVs', font: { size: 8 }, color: '#333', padding: { top: 1, bottom: 0 } },
                afterFit: (s) => { s.height = 27.7; }
            },
            y: {
                stacked: true,
                ticks: { display: false },
                grid: NO_GRID,
                border: { display: false },
                afterFit: (s) => { s.width = 38.3; }
            }
        }
    },
    plugins: [jLabels]
});

// legend j (two columns of three)
(function () {
    const host = document.getElementById('legendJ');
    J_TYPES.forEach((t, k) => {
        const col = Math.floor(k / 3), row = k % 3;
        const el = document.createElement('div');
        el.className = 'leg';
        el.style.cssText = `left:${528 + col * 60}px;top:${388 + row * 8.6}px;font-size:8.5px;line-height:9px;`;
        el.innerHTML = `<span style="width:9px;height:5.5px;background:${J_COLORS[k]}"></span>${t}`;
        host.appendChild(el);
    });
})();
</script>
</body>
</html>
